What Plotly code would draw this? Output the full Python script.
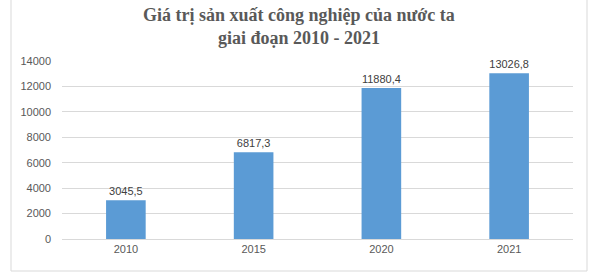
import plotly.graph_objects as go

years = ["2010", "2015", "2020", "2021"]
values = [3045.5, 6817.3, 11880.4, 13026.8]
labels = ["3045,5", "6817,3", "11880,4", "13026,8"]
title_text = "<b>Giá trị sản xuất công nghiệp của nước ta<br>giai đoạn 2010 - 2021</b>"

fig = go.Figure()
fig.add_trace(go.Bar(
    x=years, y=values, text=labels, textposition="outside",
    textfont=dict(family="Liberation Sans, Arial", size=11, color="#404040"),
    marker=dict(color="#5B9BD5", line=dict(width=0)),
    width=0.31, cliponaxis=False, hoverinfo="skip",
))

fig.update_layout(
    width=603, height=278,
    margin=dict(l=62, r=30, t=61, b=39),
    paper_bgcolor="white", plot_bgcolor="white",
    showlegend=False,
    xaxis=dict(showgrid=False, showline=True, linecolor="#d9d9d9", linewidth=1,
               ticks="", tickfont=dict(family="Liberation Sans, Arial", size=11, color="#595959")),
    yaxis=dict(range=[0, 14000], dtick=2000, tickformat="d", showgrid=True, gridcolor="#d9d9d9", gridwidth=1,
               zeroline=False, showline=False, ticks="", ticklabelstandoff=10,
               tickfont=dict(family="Liberation Sans, Arial", size=11, color="#595959")),
    bargap=0.69,
)

fig.add_annotation(text=title_text, xref="paper", yref="paper",
                   x=(299 - 62) / 511, y=(239 - 3) / 178, xanchor="center", yanchor="top",
                   showarrow=False, align="center",
                   font=dict(family="Liberation Serif, Times New Roman", size=18, color="#595959"))

fig.add_shape(type="rect", xref="paper", yref="paper",
              x0=(11 - 62) / 511, x1=(587 - 62) / 511,
              y0=(239 - 271) / 178, y1=(239 + 2) / 178,
              line=dict(color="#d9d9d9", width=1), fillcolor="rgba(0,0,0,0)", layer="below")

fig.write_html("out.html")
